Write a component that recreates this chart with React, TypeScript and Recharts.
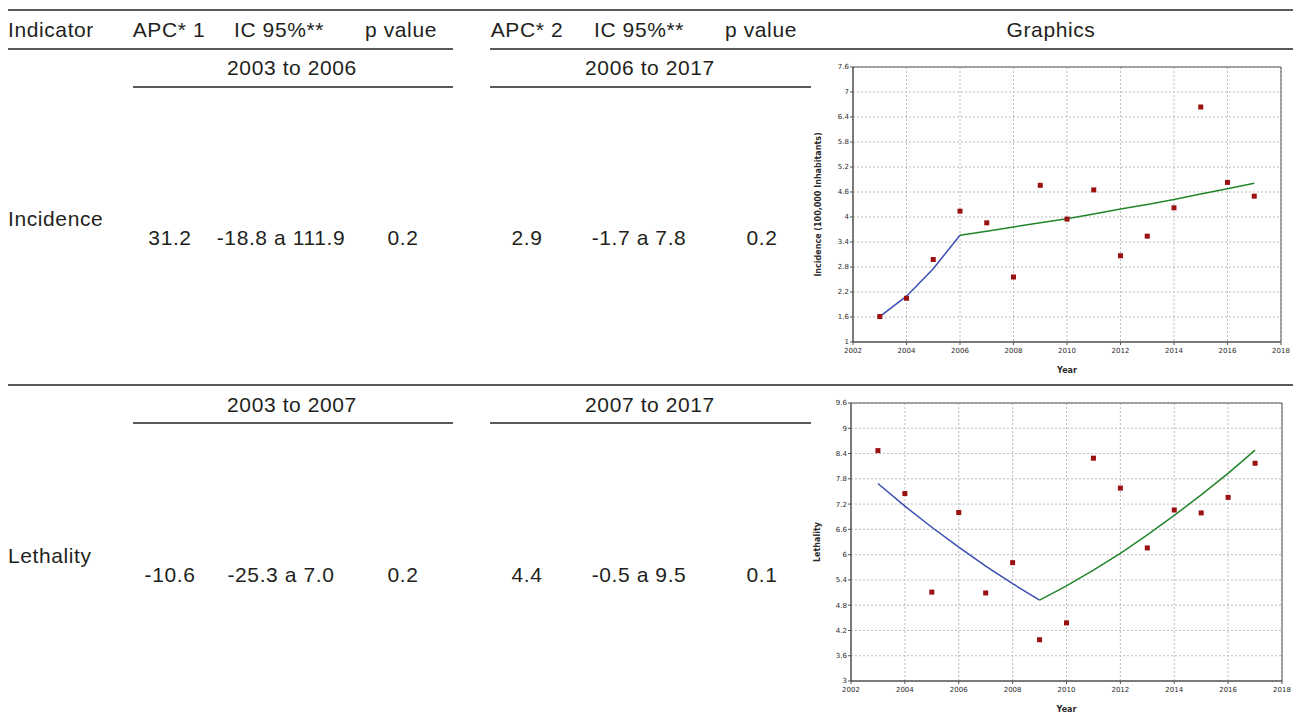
import React from "react";
import {
  ComposedChart,
  Line,
  Scatter,
  XAxis,
  YAxis,
  CartesianGrid,
  ReferenceArea,
} from "recharts";

const years = [2003, 2004, 2005, 2006, 2007, 2008, 2009, 2010, 2011, 2012, 2013, 2014, 2015, 2016, 2017];
const xTicks = [2002, 2004, 2006, 2008, 2010, 2012, 2014, 2016, 2018];

// Incidence (per 100,000 inhabitants)
const incidenceObs = [1.61, 2.05, 2.98, 4.14, 3.86, 2.56, 4.76, 3.95, 4.65, 3.07, 3.54, 4.22, 6.64, 4.83, 4.5];
const incidenceFit1 = [1.61, 2.1, 2.76, 3.56]; // 2003-2006
const incidenceFit2 = [3.56, 3.66, 3.76, 3.86, 3.96, 4.07, 4.19, 4.3, 4.42, 4.55, 4.68, 4.81]; // 2006-2017
const incidenceTicks = [1, 1.6, 2.2, 2.8, 3.4, 4, 4.6, 5.2, 5.8, 6.4, 7, 7.6];

// Lethality
const lethalityObs = [8.47, 7.45, 5.11, 7.0, 5.09, 5.81, 3.98, 4.38, 8.29, 7.58, 6.16, 7.06, 6.99, 7.36, 8.17];
const lethalityFit1 = [7.69, 7.15, 6.65, 6.18, 5.73, 5.31, 4.92]; // 2003-2009
const lethalityFit2 = [4.92, 5.26, 5.63, 6.03, 6.47, 6.93, 7.42, 7.93, 8.48]; // 2009-2017
const lethalityTicks = [3, 3.6, 4.2, 4.8, 5.4, 6, 6.6, 7.2, 7.8, 8.4, 9, 9.6];

// table text
const headers = ["Indicator", "APC* 1", "IC 95%**", "p value", "APC* 2", "IC 95%**", "p value", "Graphics"];
const incidenceRow = ["31.2", "-18.8 a 111.9", "0.2", "2.9", "-1.7 a 7.8", "0.2"];
const lethalityRow = ["-10.6", "-25.3 a 7.0", "0.2", "4.4", "-0.5 a 9.5", "0.1"];
const periods1 = ["2003 to 2006", "2006 to 2017"];
const periods2 = ["2003 to 2007", "2007 to 2017"];

const colCenters = [170, 281, 403, 527, 639, 762];
const TEXT = "#231f20";
const RULE = "#5a5a5a";

function buildRows(obs: number[], fit1: number[], fit2: number[]) {
  const breakIdx = fit1.length - 1;
  return years.map((year, i) => ({
    year,
    obs: obs[i],
    fit1: i < fit1.length ? fit1[i] : null,
    fit2: i >= breakIdx ? fit2[i - breakIdx] : null,
  }));
}

const Square = (p: any) => {
  if (p.cx == null || p.cy == null) return null;
  return <rect x={p.cx - 2.5} y={p.cy - 2.5} width={5} height={5} fill="#9b1111" />;
};

const tickStyle = { fontSize: 7, fill: "#2a2a2a", fontFamily: "DejaVu Sans" };

function TrendChart({
  rows,
  yTicks,
  yLabel,
  yAxisWidth,
  labelOffset,
  plotHeight,
  rightMargin,
}: {
  rows: any[];
  yTicks: number[];
  yLabel: string;
  yAxisWidth: number;
  labelOffset: number;
  plotHeight: number;
  rightMargin: number;
}) {
  const yMin = yTicks[0];
  const yMax = yTicks[yTicks.length - 1];
  return (
    <ComposedChart
      width={486}
      height={9 + plotHeight + 34}
      data={rows}
      margin={{ top: 9, right: rightMargin, bottom: 0, left: 0 }}
    >
      <CartesianGrid stroke="#bdbdbd" strokeDasharray="2 2" />
      <XAxis
        type="number"
        dataKey="year"
        domain={[2002, 2018]}
        ticks={xTicks}
        allowDataOverflow
        height={34}
        tick={tickStyle}
        tickSize={3}
        tickMargin={3}
        axisLine={{ stroke: "#555" }}
        tickLine={{ stroke: "#555" }}
        label={{
          value: "Year",
          position: "insideBottom",
          offset: 3,
          style: { fontSize: 8, fontWeight: "bold", fill: "#2a2a2a", fontFamily: "DejaVu Sans" },
        }}
      />
      <YAxis
        type="number"
        domain={[yMin, yMax]}
        ticks={yTicks}
        allowDataOverflow
        width={yAxisWidth}
        tick={tickStyle}
        tickSize={3}
        tickMargin={1}
        axisLine={{ stroke: "#555" }}
        tickLine={{ stroke: "#555" }}
        label={{
          value: yLabel,
          angle: -90,
          position: "insideLeft",
          offset: labelOffset,
          style: {
            fontSize: 8,
            fontWeight: "bold",
            fill: "#2a2a2a",
            fontFamily: "DejaVu Sans",
            textAnchor: "middle",
          },
        }}
      />
      <ReferenceArea x1={2002} x2={2018} y1={yMin} y2={yMax} fill="none" stroke="#555" strokeWidth={1} />
      <Line
        dataKey="fit1"
        stroke="#3d4db3"
        strokeWidth={1.5}
        dot={false}
        connectNulls={false}
        isAnimationActive={false}
      />
      <Line
        dataKey="fit2"
        stroke="#22852b"
        strokeWidth={1.5}
        dot={false}
        connectNulls={false}
        isAnimationActive={false}
      />
      <Scatter dataKey="obs" shape={Square} isAnimationActive={false} />
    </ComposedChart>
  );
}

function Txt({
  children,
  x,
  baseline,
  center,
  width = 200,
}: {
  children: React.ReactNode;
  x: number;
  baseline: number;
  center?: boolean;
  width?: number;
}) {
  return (
    <div
      style={{
        position: "absolute",
        left: center ? x - width / 2 : x,
        top: baseline - 17.5,
        width: center ? width : undefined,
        textAlign: center ? "center" : "left",
        fontSize: 21,
        letterSpacing: 0.6,
        lineHeight: "20px",
        whiteSpace: "nowrap",
        color: TEXT,
      }}
    >
      {children}
    </div>
  );
}

function Rule({ x1, x2, y, w = 1.5 }: { x1: number; x2: number; y: number; w?: number }) {
  return (
    <div
      style={{
        position: "absolute",
        left: x1,
        top: y - w / 2,
        width: x2 - x1,
        height: w,
        background: RULE,
      }}
    />
  );
}

export default function App() {
  const incidenceRows = buildRows(incidenceObs, incidenceFit1, incidenceFit2);
  const lethalityRows = buildRows(lethalityObs, lethalityFit1, lethalityFit2);
  const headerX = [8, 169, 279, 401, 527, 639, 761, 1051];

  return (
    <div
      style={{
        position: "absolute",
        left: 0,
        top: 0,
        width: 1296,
        height: 720,
        background: "#fff",
        overflow: "hidden",
        fontFamily: "'Liberation Sans', Arial, sans-serif",
      }}
    >
      {/* rules */}
      <Rule x1={8} x2={1293} y={10} />
      <Rule x1={8} x2={453} y={49} />
      <Rule x1={490} x2={1293} y={49} />
      <Rule x1={133} x2={453} y={87} />
      <Rule x1={490} x2={811} y={87} />
      <Rule x1={8} x2={1293} y={385} />
      <Rule x1={133} x2={453} y={423} />
      <Rule x1={490} x2={811} y={423} />

      {/* header */}
      {headers.map((h, i) =>
        i === 0 ? (
          <Txt key={i} x={headerX[i]} baseline={37}>
            {h}
          </Txt>
        ) : (
          <Txt key={i} x={headerX[i]} baseline={37} center>
            {h}
          </Txt>
        )
      )}

      {/* incidence row */}
      <Txt x={292} baseline={75} center>{periods1[0]}</Txt>
      <Txt x={650} baseline={75} center>{periods1[1]}</Txt>
      <Txt x={8} baseline={226}>Incidence</Txt>
      {incidenceRow.map((v, i) => (
        <Txt key={i} x={colCenters[i]} baseline={245} center>
          {v}
        </Txt>
      ))}

      {/* lethality row */}
      <Txt x={292} baseline={412} center>{periods2[0]}</Txt>
      <Txt x={650} baseline={412} center>{periods2[1]}</Txt>
      <Txt x={8} baseline={563}>Lethality</Txt>
      {lethalityRow.map((v, i) => (
        <Txt key={i} x={colCenters[i]} baseline={582} center>
          {v}
        </Txt>
      ))}

      {/* charts */}
      <div style={{ position: "absolute", left: 810, top: 58 }}>
        <TrendChart
          rows={incidenceRows}
          yTicks={incidenceTicks}
          yLabel="Incidence (100,000 Inhabitants)"
          yAxisWidth={43}
          labelOffset={8}
          plotHeight={275}
          rightMargin={15}
        />
      </div>
      <div style={{ position: "absolute", left: 810, top: 394 }}>
        <TrendChart
          rows={lethalityRows}
          yTicks={lethalityTicks}
          yLabel="Lethality"
          yAxisWidth={41}
          labelOffset={7}
          plotHeight={278}
          rightMargin={14}
        />
      </div>
    </div>
  );
}
